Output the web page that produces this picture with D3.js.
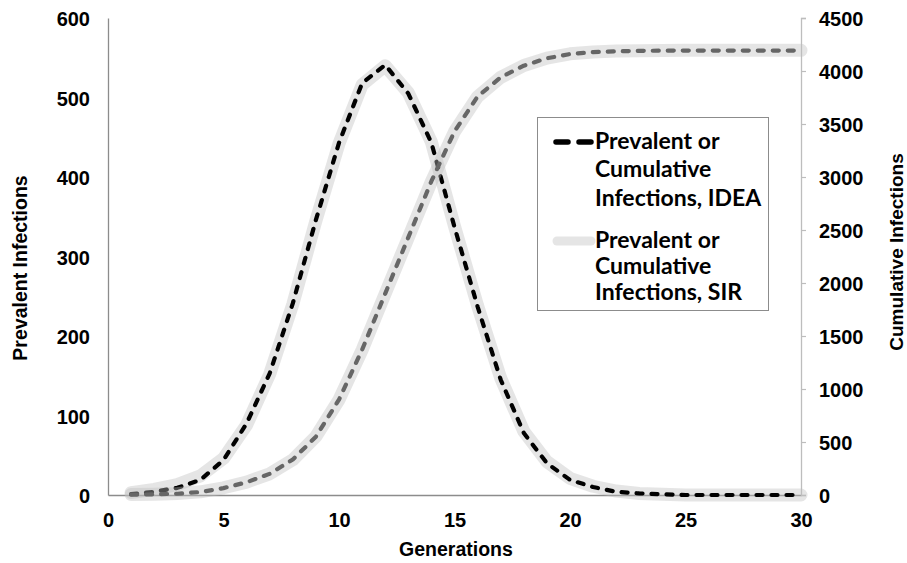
<!DOCTYPE html>
<html>
<head>
<meta charset="utf-8">
<script src="https://cdn.jsdelivr.net/npm/d3@7"></script>
<style>
  html, body { margin: 0; padding: 0; background: #fff; }
  svg { display: block; }
</style>
</head>
<body>
<svg id="chart" width="907" height="563"></svg>
<script>
// ---------------- data ----------------
const generations = [1,2,3,4,5,6,7,8,9,10,11,12,13,14,15,16,17,18,19,20,21,22,23,24,25,26,27,28,29,30];
const prevalentIDEA = [1,4,9,19,44,90,153,241,346,443,518,541,505,443,337,237,145,78,40,19,10,4,2,1,0,0,0,0,0,0];
const cumulativeIDEA = [3,6,12,28,65,120,200,335,550,900,1370,1900,2430,2960,3430,3760,3940,4050,4120,4160,4178,4186,4190,4192,4193,4193,4193,4193,4193,4193];
const prevalentSIR = [3,7,13,24,46,88,152,240,345,442,516,540,506,444,338,238,147,80,42,21,11,5,2,1,0,0,0,0,0,0];
const cumulativeSIR = [4,8,15,30,68,122,200,332,552,898,1368,1900,2428,2958,3428,3758,3940,4052,4122,4162,4180,4188,4192,4194,4195,4195,4195,4195,4195,4195];
const xTicks = [0,5,10,15,20,25,30];
const leftTicks = [0,100,200,300,400,500,600];
const rightTicks = [0,500,1000,1500,2000,2500,3000,3500,4000,4500];
const xTitle = "Generations";
const leftTitle = "Prevalent Infections";
const rightTitle = "Cumulative Infections";
const legendIDEA = ["Prevalent or", "Cumulative", "Infections, IDEA"];
const legendSIR = ["Prevalent or", "Cumulative", "Infections, SIR"];

// ---------------- layout ----------------
const svg = d3.select("#chart");
const pL = 108, pR = 801, pT = 18, pB = 495;
const x = d3.scaleLinear().domain([0, 30]).range([pL, pR]);
const yL = d3.scaleLinear().domain([0, 600]).range([pB, pT]);
const yR = d3.scaleLinear().domain([0, 4500]).range([pB, pT]);

const tickFont = "'Liberation Sans', Arial, sans-serif";

// axes
const xAxis = svg.append("g").attr("transform", `translate(0,${pB})`)
  .call(d3.axisBottom(x).tickValues(xTicks).tickSize(0).tickPadding(25).tickFormat(d3.format("d")));
xAxis.select(".domain").attr("stroke", "#8c8c8c").attr("stroke-width", 1.3);
xAxis.selectAll("text").attr("font-family", tickFont).attr("font-weight", "bold")
  .attr("font-size", 20).attr("fill", "#000").attr("dy", "0.35em");

const lAxis = svg.append("g").attr("transform", `translate(${pL},0)`)
  .call(d3.axisLeft(yL).tickValues(leftTicks).tickSize(0).tickPadding(18).tickFormat(d3.format("d")));
lAxis.select(".domain").attr("stroke", "#8c8c8c").attr("stroke-width", 1.3);
lAxis.selectAll("text").attr("font-family", tickFont).attr("font-weight", "bold")
  .attr("font-size", 20).attr("fill", "#000").attr("dy", "0.38em");

const rAxis = svg.append("g").attr("transform", `translate(${pR},0)`)
  .call(d3.axisRight(yR).tickValues(rightTicks).tickSizeInner(5).tickSizeOuter(5).tickPadding(13).tickFormat(d3.format("d")));
rAxis.select(".domain").attr("stroke", "#bdbdbd").attr("stroke-width", 1.3);
rAxis.selectAll(".tick line").attr("stroke", "#bdbdbd").attr("stroke-width", 1.2);
rAxis.selectAll("text").attr("font-family", tickFont).attr("font-weight", "bold")
  .attr("font-size", 20).attr("fill", "#000").attr("dy", "0.38em");

// titles
svg.append("text").attr("x", 456).attr("y", 556)
  .attr("text-anchor", "middle").attr("font-family", tickFont).attr("font-weight", "bold")
  .attr("font-size", 19.5).text(xTitle);
svg.append("text").attr("transform", "translate(27,268) rotate(-90)")
  .attr("text-anchor", "middle").attr("font-family", tickFont).attr("font-weight", "bold")
  .attr("font-size", 19.5).text(leftTitle);
svg.append("text").attr("transform", "translate(903,252) rotate(-90)")
  .attr("text-anchor", "middle").attr("font-family", tickFont).attr("font-weight", "bold")
  .attr("font-size", 19).text(rightTitle);

// lines
const lineL = d3.line().x((d, i) => x(generations[i])).y(d => yL(d));
const lineR = d3.line().x((d, i) => x(generations[i])).y(d => yR(d));

const bandStyle = g => g.attr("fill", "none").attr("stroke", "#bdbdbd").attr("stroke-opacity", 0.4)
  .attr("stroke-width", 13).attr("stroke-linecap", "round").attr("stroke-linejoin", "round");

svg.append("path").datum(prevalentSIR).attr("d", lineL).call(bandStyle);
svg.append("path").datum(prevalentIDEA).attr("d", lineL)
  .attr("fill", "none").attr("stroke", "#000").attr("stroke-width", 4.2)
  .attr("stroke-dasharray", "6,9").attr("stroke-linecap", "round").attr("stroke-linejoin", "round");
svg.append("path").datum(cumulativeSIR).attr("d", lineR).call(bandStyle);
svg.append("path").datum(cumulativeIDEA).attr("d", lineR)
  .attr("fill", "none").attr("stroke", "#666666").attr("stroke-width", 4.2)
  .attr("stroke-dasharray", "6,9").attr("stroke-linecap", "round").attr("stroke-linejoin", "round");

// legend
const lg = svg.append("g");
lg.append("rect").attr("x", 537.5).attr("y", 117.5).attr("width", 231).attr("height", 193)
  .attr("fill", "#fff").attr("stroke", "#8c8c8c").attr("stroke-width", 1);
lg.append("line").attr("x1", 556).attr("x2", 591).attr("y1", 142).attr("y2", 142)
  .attr("stroke", "#000").attr("stroke-width", 5.5).attr("stroke-linecap", "round")
  .attr("stroke-dasharray", "12,11");
lg.append("line").attr("x1", 557).attr("x2", 591).attr("y1", 241).attr("y2", 241)
  .attr("stroke", "#bdbdbd").attr("stroke-opacity", 0.4).attr("stroke-width", 9)
  .attr("stroke-linecap", "round");
const legFont = "Lato, 'Open Sans', sans-serif";
const b1 = [149, 177, 206], b2 = [248, 274, 300];
legendIDEA.forEach((t, i) => lg.append("text").attr("x", 595).attr("y", b1[i])
  .attr("font-family", legFont).attr("font-weight", "bold").attr("font-size", 23).attr("fill", "#000").text(t));
legendSIR.forEach((t, i) => lg.append("text").attr("x", 595).attr("y", b2[i])
  .attr("font-family", legFont).attr("font-weight", "bold").attr("font-size", 23).attr("fill", "#000").text(t));
</script>
</body>
</html>
